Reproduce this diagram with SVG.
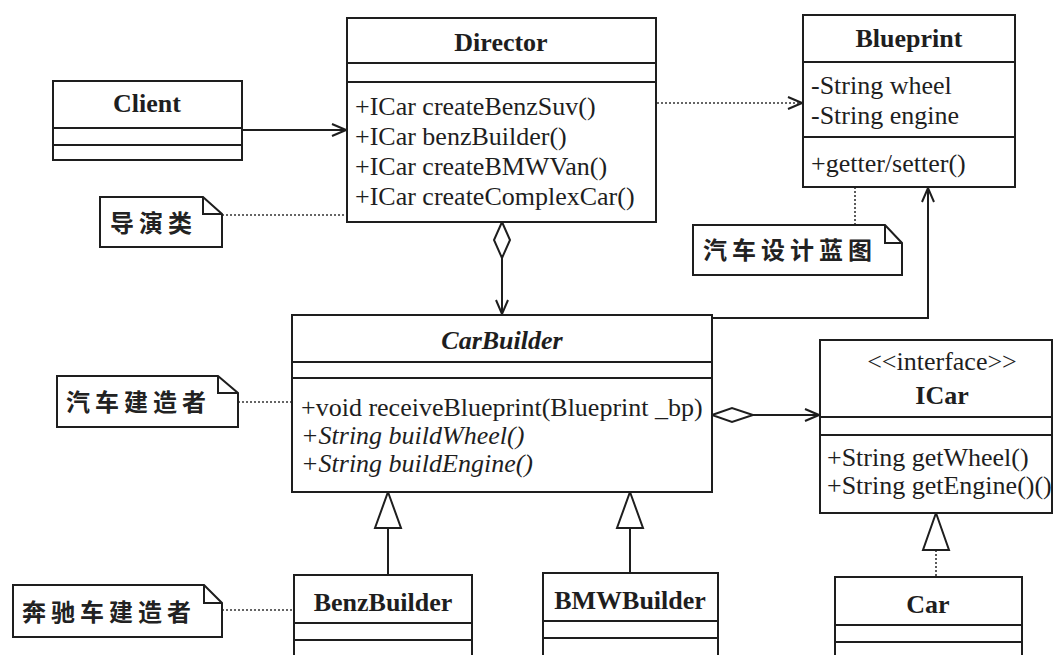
<svg xmlns="http://www.w3.org/2000/svg" width="1054" height="655" viewBox="0 0 1054 655">
<style>
.box{fill:#fff;stroke:#1e1e1e;stroke-width:2}
.ln{fill:none;stroke:#1e1e1e;stroke-width:2}
.dash{fill:none;stroke:#333;stroke-width:1.6;stroke-dasharray:2 2}
.t{font-family:"Liberation Serif","Times New Roman",serif;font-size:26px;fill:#1e1e1e}
.b{font-weight:bold;text-anchor:middle}
.i{font-style:italic}
.cn{font-family:"Noto Sans CJK SC","Noto Sans",sans-serif;font-size:24px;font-weight:bold;fill:#222;letter-spacing:5px}
</style>
<defs>
<marker id="open" viewBox="0 0 16 14" refX="15" refY="7" markerWidth="16" markerHeight="14" markerUnits="userSpaceOnUse" orient="auto">
<path d="M1,1 L15,7 L1,13" fill="none" stroke="#1e1e1e" stroke-width="2"/>
</marker>
</defs>
<rect width="1054" height="655" fill="#fff"/>

<g id="connectors">
<line class="ln" x1="242" y1="130" x2="346" y2="130" marker-end="url(#open)"/>
<line class="dash" x1="657" y1="103" x2="802" y2="103" marker-end="url(#open)"/>
<line class="dash" x1="222" y1="215" x2="347" y2="215"/>
<line class="dash" x1="855" y1="187" x2="855" y2="225"/>
<line class="dash" x1="238" y1="402" x2="292" y2="402"/>
<line class="dash" x1="222" y1="610" x2="294" y2="610"/>
<polygon class="box" points="502,222 510,240 502,258 494,240"/>
<line class="ln" x1="502" y1="258" x2="502" y2="314" marker-end="url(#open)"/>
<polyline class="ln" points="712,318 928,318 928,188" marker-end="url(#open)"/>
<polygon class="box" points="712,415 732,408 753,415 732,422"/>
<line class="ln" x1="753" y1="415" x2="819" y2="415" marker-end="url(#open)"/>
<line class="ln" x1="388" y1="528" x2="388" y2="575"/>
<polygon class="box" points="388,492 401,528 375,528"/>
<line class="ln" x1="630" y1="528" x2="630" y2="573"/>
<polygon class="box" points="630,492 643,528 617,528"/>
<line class="dash" x1="936" y1="550" x2="936" y2="577"/>
<polygon class="box" points="936,513 949,550 923,550"/>
</g>

<g id="client">
<rect class="box" x="53" y="81" width="189" height="79"/>
<line class="ln" x1="53" y1="128" x2="242" y2="128"/>
<line class="ln" x1="53" y1="145" x2="242" y2="145"/>
<text class="t b" x="147" y="112">Client</text>
</g>

<g id="director">
<rect class="box" x="347" y="18" width="309" height="204"/>
<line class="ln" x1="347" y1="63" x2="656" y2="63"/>
<line class="ln" x1="347" y1="82" x2="656" y2="82"/>
<text class="t b" x="501" y="51">Director</text>
<text class="t" x="355" y="115">+ICar createBenzSuv()</text>
<text class="t" x="355" y="145">+ICar benzBuilder()</text>
<text class="t" x="355" y="175">+ICar createBMWVan()</text>
<text class="t" x="355" y="205">+ICar createComplexCar()</text>
</g>

<g id="note-director">
<polygon class="box" points="100,197 203,197 222,214 222,247 100,247"/>
<polyline class="ln" points="203,197 203,214 222,214"/>
<text class="cn" x="110" y="232">导演类</text>
</g>

<g id="blueprint">
<rect class="box" x="803" y="15" width="212" height="172"/>
<line class="ln" x1="803" y1="62" x2="1015" y2="62"/>
<line class="ln" x1="803" y1="137" x2="1015" y2="137"/>
<text class="t b" x="909" y="47">Blueprint</text>
<text class="t" x="811" y="94">-String wheel</text>
<text class="t" x="811" y="124">-String engine</text>
<text class="t" x="811" y="172">+getter/setter()</text>
</g>

<g id="note-blueprint">
<polygon class="box" points="693,225 885,225 902,243 902,275 693,275"/>
<polyline class="ln" points="885,225 885,243 902,243"/>
<text class="cn" x="703" y="259">汽车设计蓝图</text>
</g>

<g id="carbuilder">
<rect class="box" x="292" y="315" width="420" height="177"/>
<line class="ln" x1="292" y1="362" x2="712" y2="362"/>
<line class="ln" x1="292" y1="378" x2="712" y2="378"/>
<text class="t b i" x="502" y="349">CarBuilder</text>
<text class="t" x="301" y="416">+void receiveBlueprint(Blueprint _bp)</text>
<text class="t i" x="301" y="444">+String buildWheel()</text>
<text class="t i" x="301" y="472">+String buildEngine()</text>
</g>

<g id="note-carbuilder">
<polygon class="box" points="57,376 218,376 238,393 238,427 57,427"/>
<polyline class="ln" points="218,376 218,393 238,393"/>
<text class="cn" x="66" y="411">汽车建造者</text>
</g>

<g id="icar">
<rect class="box" x="820" y="340" width="232" height="173"/>
<line class="ln" x1="820" y1="417" x2="1052" y2="417"/>
<line class="ln" x1="820" y1="435" x2="1052" y2="435"/>
<text class="t" x="942" y="370" text-anchor="middle" font-size="23">&lt;&lt;interface&gt;&gt;</text>
<text class="t b" x="942" y="404">ICar</text>
<text class="t" x="827" y="466">+String getWheel()</text>
<text class="t" x="827" y="494">+String getEngine()()</text>
</g>

<g id="benzbuilder">
<rect class="box" x="294" y="575" width="178" height="100"/>
<line class="ln" x1="294" y1="623" x2="472" y2="623"/>
<line class="ln" x1="294" y1="640" x2="472" y2="640"/>
<text class="t b" x="383" y="611">BenzBuilder</text>
</g>

<g id="note-benz">
<polygon class="box" points="13,585 204,585 222,603 222,637 13,637"/>
<polyline class="ln" points="204,585 204,603 222,603"/>
<text class="cn" x="22" y="621">奔驰车建造者</text>
</g>

<g id="bmwbuilder">
<rect class="box" x="543" y="573" width="175" height="100"/>
<line class="ln" x1="543" y1="621" x2="718" y2="621"/>
<line class="ln" x1="543" y1="638" x2="718" y2="638"/>
<text class="t b" x="630" y="609">BMWBuilder</text>
</g>

<g id="car">
<rect class="box" x="835" y="577" width="187" height="100"/>
<line class="ln" x1="835" y1="625" x2="1022" y2="625"/>
<line class="ln" x1="835" y1="642" x2="1022" y2="642"/>
<text class="t b" x="928" y="613">Car</text>
</g>
</svg>
